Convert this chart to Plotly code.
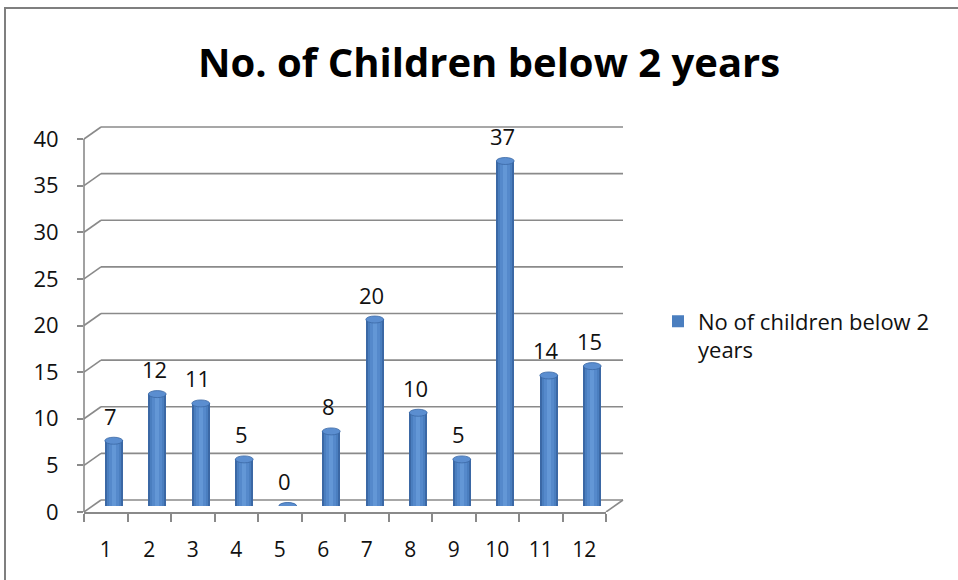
import plotly.graph_objects as go

categories = [1, 2, 3, 4, 5, 6, 7, 8, 9, 10, 11, 12]
values = [7, 12, 11, 5, 0, 8, 20, 10, 5, 37, 14, 15]
series_name = "No of children below 2<br>years"
title_text = "No. of Children below 2 years"
y_ticks = [0, 5, 10, 15, 20, 25, 30, 35, 40]

W, H = 958, 580
FONT = "Open Sans"
GRID = "#8a8a8a"
Y_MAX = 40
Y_TOP = 42  # extra headroom so back-wall lines are not clipped

def px_x(p):
    return p / W

def px_y(p):
    return (H - p) / H

# front plane (pixels)
fx0, fx1 = 84, 606
fy0 = 512
unit = (512 - 139) / Y_MAX
fy1 = fy0 - unit * Y_TOP
# depth offset (back wall)
DX, DY = 17, 12
# bars at mid depth
bx, by = 8, 6

fig = go.Figure()

bar_w = 0.41
layers = [
    (bar_w, "#3B68A5", False, None),
    (0.33, "#4A7EBF", True, series_name),
    (0.22, "#5589CB", False, None),
    (0.10, "#6397D6", False, None),
]
for w, c, sl, nm in layers:
    fig.add_trace(go.Bar(
        x=categories, y=values, width=w, marker=dict(color=c, line=dict(width=0)),
        xaxis="x2", yaxis="y2", showlegend=sl, name=nm if nm else "",
        hoverinfo="skip",
    ))

shapes = []
# back wall gridlines and left diagonals
for v in y_ticks:
    shapes.append(dict(type="line", xref="paper", x0=px_x(fx0 + DX), x1=px_x(fx1 + DX),
                       yref="y", ysizemode="pixel", yanchor=v, y0=DY, y1=DY,
                       line=dict(color=GRID, width=1.6), layer="below"))
    shapes.append(dict(type="line", xref="paper", x0=px_x(fx0), x1=px_x(fx0 + DX),
                       yref="y", ysizemode="pixel", yanchor=v, y0=0, y1=DY,
                       line=dict(color=GRID, width=1.6), layer="below"))
# front vertical axis line 0..40
shapes.append(dict(type="line", xref="paper", x0=px_x(fx0), x1=px_x(fx0),
                   yref="y", y0=0, y1=Y_MAX, line=dict(color=GRID, width=1.6), layer="below"))
# floor right diagonal
shapes.append(dict(type="line", xref="paper", x0=px_x(fx1), x1=px_x(fx1 + DX),
                   yref="y", ysizemode="pixel", yanchor=0, y0=0, y1=DY,
                   line=dict(color=GRID, width=1.6), layer="below"))
# bottom ellipses
for c, v in zip(categories, values):
    shapes.append(dict(type="circle", xref="x2", x0=c - bar_w / 2, x1=c + bar_w / 2,
                       yref="y2", ysizemode="pixel", yanchor=0, y0=-3.5, y1=3.5,
                       fillcolor="#4373B2", line=dict(width=0), layer="below"))
# top ellipses
for c, v in zip(categories, values):
    shapes.append(dict(type="circle", xref="x2", x0=c - bar_w / 2, x1=c + bar_w / 2,
                       yref="y2", ysizemode="pixel", yanchor=v, y0=-3.5, y1=3.5,
                       fillcolor="#5B8ED0", line=dict(color="#3B68A5", width=0.8)))
# outer border
shapes.append(dict(type="line", xref="paper", yref="paper", x0=px_x(4), x1=1.0,
                   y0=px_y(8), y1=px_y(8), line=dict(color="#7f7f7f", width=2)))
shapes.append(dict(type="line", xref="paper", yref="paper", x0=px_x(5), x1=px_x(5),
                   y0=px_y(8), y1=0, line=dict(color="#7f7f7f", width=2)))

annotations = []
for c, v in zip(categories, values):
    annotations.append(dict(x=c, y=v, xref="x2", yref="y2", text=str(v), showarrow=False,
                            yshift=25, xshift=-3, yanchor="middle",
                            font=dict(family=FONT, size=22, color="#111111")))
annotations.append(dict(x=px_x(489), y=px_y(61), xref="paper", yref="paper", text="<b>" + title_text + "</b>",
                        showarrow=False, xanchor="center", yanchor="middle",
                        font=dict(family=FONT, size=40, color="#000000")))

fig.update_layout(
    width=W, height=H,
    margin=dict(l=0, r=0, t=0, b=0, autoexpand=False),
    paper_bgcolor="white", plot_bgcolor="rgba(0,0,0,0)",
    barmode="overlay", bargap=0,
    shapes=shapes, annotations=annotations,
    font=dict(family=FONT, size=21, color="#111111"),
    showlegend=True,
    legend=dict(x=px_x(658), y=px_y(336), xanchor="left", yanchor="middle", valign="top",
                font=dict(family=FONT, size=22, color="#111111"), bgcolor="rgba(0,0,0,0)"),
    xaxis=dict(domain=[px_x(fx0), px_x(fx1)], range=[0.5, 12.5], tickmode="array",
               tickvals=categories, ticktext=[str(c) for c in categories], ticks="",
               showline=True, linecolor=GRID, linewidth=1.6, showgrid=False, zeroline=False,
               ticklabelstandoff=18, anchor="y", fixedrange=True, automargin=False,
               tickfont=dict(family=FONT, size=21, color="#111111"),
               minor=dict(ticks="outside", tick0=0.5, dtick=1, ticklen=8, tickcolor=GRID, tickwidth=1.6, showgrid=False)),
    yaxis=dict(domain=[px_y(fy0), px_y(fy1)], range=[0, Y_TOP], tickvals=y_ticks, ticks="outside",
               ticklen=6, tickcolor=GRID, tickwidth=1.6, showline=False,
               tickfont=dict(family=FONT, size=22, color="#111111"),
               showgrid=False, zeroline=False, ticklabelstandoff=14, anchor="x", fixedrange=True, automargin=False),
    xaxis2=dict(domain=[px_x(fx0 + bx), px_x(fx1 + bx)], range=[0.5, 12.5], visible=False,
                anchor="y2", fixedrange=True, automargin=False),
    yaxis2=dict(domain=[px_y(fy0 - by), px_y(fy1 - by)], range=[0, Y_TOP], visible=False,
                anchor="x2", fixedrange=True, automargin=False),
)

fig.write_html("out.html")
